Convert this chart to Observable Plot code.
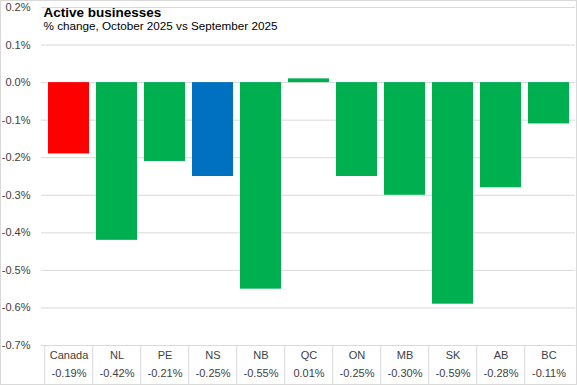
<!DOCTYPE html>
<html>
<head>
<meta charset="utf-8">
<script src="https://cdn.jsdelivr.net/npm/d3@7"></script>
<script src="https://cdn.jsdelivr.net/npm/@observablehq/plot@0.6"></script>
<style>
  html, body { margin: 0; padding: 0; background: white; }
  #wrap { position: relative; width: 577px; height: 385px; overflow: hidden; }
  #border { position: absolute; left: 0; top: 0; width: 577px; height: 385px; box-sizing: border-box; border: 1px solid #d9d9d9; pointer-events: none; }
</style>
</head>
<body>
<div id="wrap"><div id="border"></div></div>
<script>
const categories = ["Canada", "NL", "PE", "NS", "NB", "QC", "ON", "MB", "SK", "AB", "BC"];
const values = [-0.19, -0.42, -0.21, -0.25, -0.55, 0.01, -0.25, -0.30, -0.59, -0.28, -0.11];
const yTicks = [-0.7, -0.6, -0.5, -0.4, -0.3, -0.2, -0.1, 0.0, 0.1, 0.2];
const titleText = ["Active businesses"];
const subtitleText = ["% change, October 2025 vs September 2025"];

const colorFor = c => c === "Canada" ? "#FF0000" : c === "NS" ? "#0070C0" : "#00B050";
const data = categories.map((c, i) => ({cat: c, value: values[i]}));

const W = 577, H = 385, mL = 41, mR = 2, mT = 7, mB = 40;
const step = (W - mL - mR) / categories.length;

const chart = Plot.plot({
  width: W,
  height: H,
  marginLeft: mL,
  marginRight: mR,
  marginTop: mT,
  marginBottom: mB,
  style: {fontFamily: "'Liberation Sans', Arial, sans-serif", fontSize: "11px", color: "#404040", background: "white"},
  x: {domain: categories, paddingInner: 0.15, paddingOuter: 0.075, axis: null},
  y: {domain: [-0.7, 0.2], axis: null},
  marks: [
    Plot.gridY(yTicks, {stroke: "#d9d9d9", strokeOpacity: 1}),
    Plot.axisY(yTicks, {tickSize: 0, tickPadding: 11, label: null, fontSize: 11, fill: "#404040", tickFormat: d => d.toFixed(1) + "%"}),
    Plot.barY(data, {x: "cat", y: "value", fill: d => colorFor(d.cat)}),
    Plot.axisX(categories, {tickSize: 40, dx: -step / 2, stroke: "#d9d9d9", strokeOpacity: 1, tickFormat: () => "", label: null}),
    Plot.text(data, {x: "cat", frameAnchor: "bottom", lineAnchor: "middle", dy: 10, text: "cat", fill: "#404040", fontSize: 11}),
    Plot.text(data, {x: "cat", frameAnchor: "bottom", lineAnchor: "middle", dy: 28, text: d => d.value.toFixed(2) + "%", fill: "#404040", fontSize: 11}),
    Plot.text(titleText, {frameAnchor: "top-left", lineAnchor: "middle", dx: 2, dy: 5, text: d => d, fontWeight: "bold", fontSize: 13.5, fill: "#000"}),
    Plot.text(subtitleText, {frameAnchor: "top-left", lineAnchor: "middle", dx: 2, dy: 19, text: d => d, fontSize: 11.7, fill: "#000"})
  ]
});
document.getElementById("wrap").prepend(chart);
</script>
</body>
</html>
